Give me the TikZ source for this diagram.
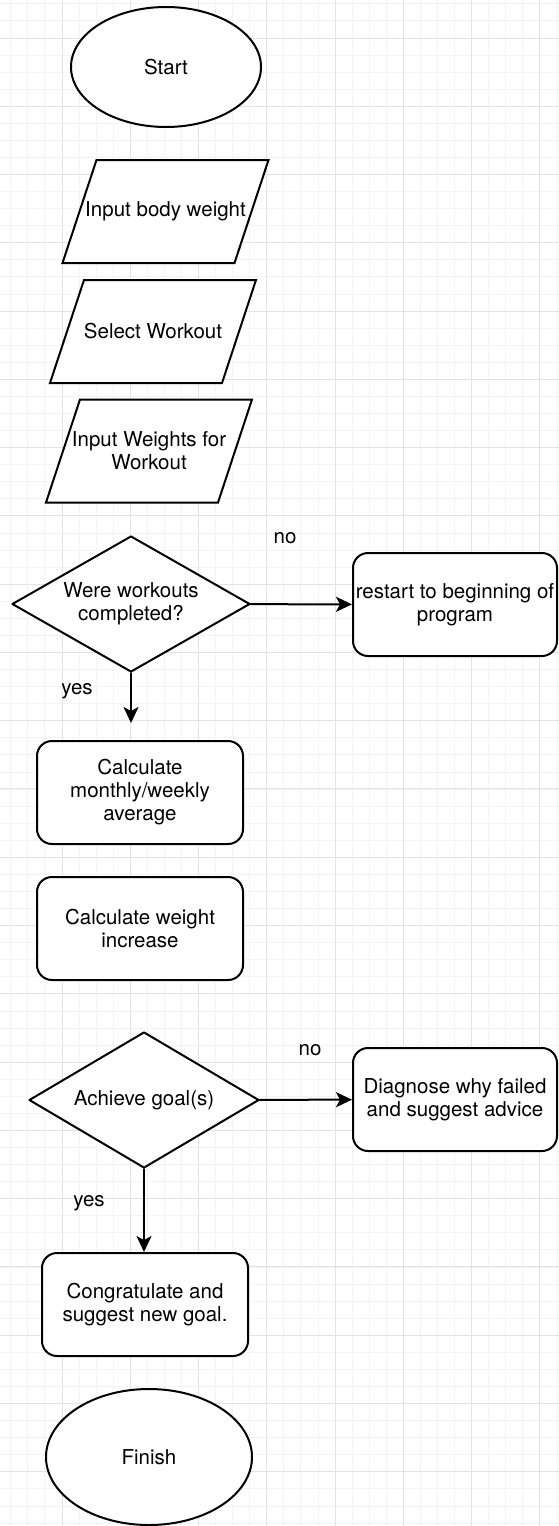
\documentclass[tikz,border=0pt]{standalone}
\usepackage{fontspec}
\setmainfont{TeX Gyre Heros}
\usetikzlibrary{shapes.geometric,arrows.meta,backgrounds}
\begin{document}
\begin{tikzpicture}[x=1pt,y=-1pt,line cap=round,line join=round,
every node/.style={font=\fontsize{20.5}{23}\selectfont,align=center},
minorgrid/.style={draw=gray!9,line width=1pt},
majorgrid/.style={draw=gray!22,line width=1pt},
terminal/.style={draw,ellipse,line width=2pt,fill=white,inner sep=0pt},
inputbox/.style={rectangle,minimum width=206pt,minimum height=103pt,inner sep=0pt,outer sep=0pt},
slanted/.style={draw,fill=white,line width=2pt},
decision/.style={draw,diamond,aspect=1.75,inner sep=0pt,line width=2pt,fill=white},
process/.style={draw,rectangle,rounded corners=15pt,minimum width=205pt,minimum height=103pt,line width=2pt,fill=white,inner sep=0pt},
flow/.style={line width=2pt,-{Stealth[length=16pt,width=15pt,inset=4pt]}}]
\useasboundingbox (0,0) rectangle (559,1526);
\begin{scope}[on background layer]
\clip (0,0) rectangle (559,1526);
\foreach \i in {0,...,33} \draw[minorgrid] ({-6.27+17.07*\i},0) -- ({-6.27+17.07*\i},1526);
\foreach \i in {0,...,89} \draw[minorgrid] (0,{3.86+17.07*\i}) -- (559,{3.86+17.07*\i});
\foreach \i in {-1,...,7} \draw[majorgrid] ({62+68.27*\i},0) -- ({62+68.27*\i},1526);
\foreach \i in {0,...,21} \draw[majorgrid] (0,{38+68.27*\i}) -- (559,{38+68.27*\i});
\end{scope}
\node[terminal,minimum width=190pt,minimum height=120pt] (start) at (166,67) {Start};
\node[inputbox] (bodyweight) at (165.5,211.5) {Input body weight};
\node[inputbox] (workout) at (153,331.5) {Select Workout};
\node[inputbox] (weights) at (149,451) {Input Weights for\\Workout};
\node[decision,minimum width=238pt,minimum height=136pt] (done) at (131,604) {Were workouts\\completed?};
\node[process,minimum width=204pt] (restart) at (455,604.5) {restart to beginning of\\program};
\node[process,minimum width=206pt] (average) at (140,792.5) {Calculate\\monthly/weekly\\average};
\node[process,minimum width=206pt] (increase) at (140,928.5) {Calculate weight\\increase};
\node[decision,minimum width=230pt,minimum height=136pt] (goal) at (144,1100) {Achieve goal(s)};
\node[process,minimum width=204pt] (diagnose) at (455,1099.5) {Diagnose why failed\\and suggest advice};
\node[process,minimum width=206pt] (congrats) at (145,1304.5) {Congratulate and\\suggest new goal.};
\node[terminal,minimum width=206pt,minimum height=136pt] (finish) at (149,1457) {Finish};
\begin{scope}[on background layer]
\foreach \n in {bodyweight,workout,weights}
  \draw[slanted] ([xshift=34pt]\n.north west) -- (\n.north east) -- ([xshift=-34pt]\n.south east) -- (\n.south west) -- cycle;
\end{scope}
\coordinate (yesend) at (131,723);
\draw[flow] (done) -- (restart);
\draw[flow] (done.south) -- (yesend);
\draw[flow] (goal) -- (diagnose);
\draw[flow] (goal.south) -- (goal.south |- congrats.north);
\node (doneno) at (285,538) {no};
\node (doneyes) at (77,691) {yes};
\node (goalno) at (310,1050) {no};
\node (goalyes) at (89,1203) {yes};
\end{tikzpicture}
\end{document}
